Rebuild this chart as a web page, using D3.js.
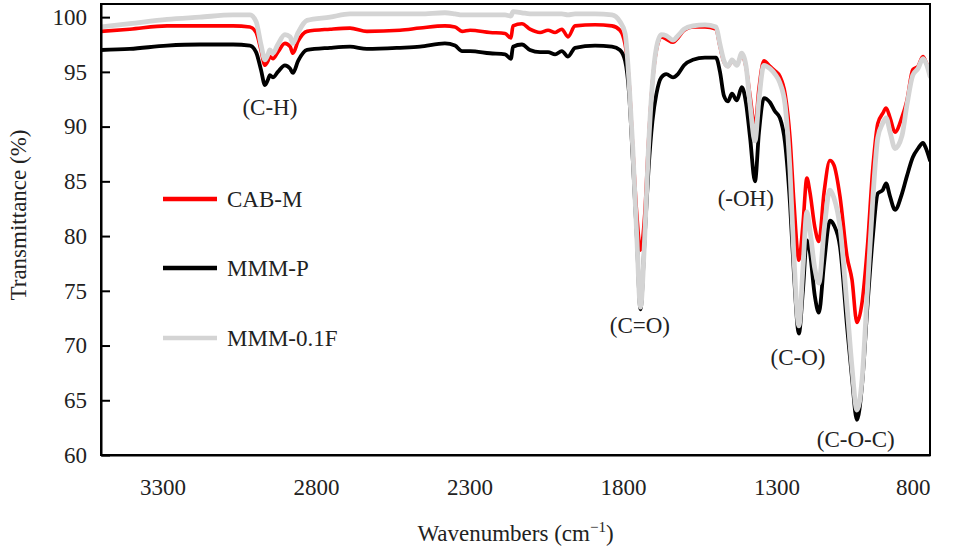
<!DOCTYPE html>
<html>
<head>
<meta charset="utf-8">
<script src="https://cdn.jsdelivr.net/npm/d3@7/dist/d3.min.js"></script>
<style>
  html, body { margin: 0; padding: 0; background: #fff; }
  svg { display: block; }
  svg text { font-family: "Liberation Serif", "Times New Roman", serif !important; fill: #222; }
</style>
</head>
<body>
<svg id="chart" width="959" height="548"></svg>
<script>
// ---- data ----
const wavenumbers = [3500,3406,3285,3178,3070,3015,2995,2979,2966,2956,2950,2940,2924,2901,2884,2875,2858,2829,2754,2689,2634,2526,2461,2380,2347,2324,2298,2233,2184,2165,2158,2129,2103,2070,2044,2021,1999,1979,1956,1891,1836,1810,1793,1780,1768,1755,1743,1729,1717,1704,1691,1675,1659,1637,1621,1601,1572,1533,1497,1484,1471,1458,1445,1429,1413,1399,1386,1370,1357,1341,1321,1305,1289,1272,1256,1243,1227,1214,1201,1191,1175,1162,1145,1126,1113,1093,1070,1054,1038,1021,1004,986,970,954,943,930,914,891,875,856,839,823,813,800];
const cabM = [98.7,98.9,99.2,99.2,99.2,99.1,98.6,97.0,95.6,96.0,96.4,96.2,96.8,97.6,97.3,96.7,97.8,98.7,98.9,99.0,98.7,98.8,99.0,99.2,99.1,98.7,98.8,98.6,98.5,98.1,99.2,99.4,98.9,98.6,98.8,98.6,98.9,98.2,99.2,99.3,99.2,98.8,97.5,94.0,88.0,82.0,78.7,82.0,88.5,94.0,97.0,98.2,98.0,97.7,98.1,98.8,99.1,99.1,98.9,97.3,95.9,95.5,96.0,95.6,96.6,95.4,92.8,90.0,93.5,96.0,95.5,95.1,94.6,93.0,89.0,83.0,77.8,81.0,85.3,84.0,80.8,79.5,84.0,86.9,86.5,83.6,78.1,76.0,72.1,74.0,79.0,86.3,90.3,91.2,91.7,90.8,89.5,90.9,92.4,95.2,95.5,96.4,95.9,94.9];
const mmmP = [97.0,97.1,97.4,97.5,97.5,97.4,96.8,95.2,93.8,94.3,94.7,94.5,95.0,95.6,95.3,94.9,96.0,97.0,97.2,97.3,97.1,97.2,97.3,97.6,97.4,96.9,96.9,96.7,96.6,96.2,97.3,97.5,97.0,96.8,96.8,96.6,96.9,96.4,97.2,97.4,97.3,97.0,96.0,93.0,87.0,80.0,73.3,80.0,86.0,90.5,93.0,94.5,94.8,94.5,94.8,95.6,96.1,96.3,96.3,95.0,92.8,92.3,93.0,92.4,93.6,92.1,89.0,85.0,89.5,92.6,92.2,91.4,90.8,88.5,83.0,76.5,71.1,75.0,79.6,78.5,74.5,73.0,77.5,81.4,81.0,79.0,71.7,67.0,63.2,66.5,73.5,80.0,83.9,84.2,84.8,83.6,82.4,83.9,85.5,87.2,88.0,88.5,88.0,86.9];
const mmm01F = [99.1,99.4,99.8,100.0,100.2,100.2,99.6,97.5,96.1,96.6,97.0,96.7,97.5,98.4,98.2,97.6,98.6,99.7,100.0,100.3,100.3,100.3,100.3,100.4,100.3,100.2,100.2,100.2,100.2,100.1,100.5,100.4,100.3,100.3,100.3,100.3,100.3,100.2,100.3,100.3,100.2,99.6,98.5,94.0,88.0,80.0,73.5,80.0,88.0,94.0,97.2,98.4,98.3,97.9,98.3,98.9,99.2,99.3,99.1,97.5,96.0,95.5,96.1,95.6,96.7,95.5,92.0,88.7,92.5,95.6,95.3,94.8,94.0,92.0,86.0,78.0,71.8,77.0,82.2,80.5,77.0,75.7,80.5,84.2,83.5,80.8,73.5,68.0,64.1,67.0,75.0,83.5,89.0,90.3,90.8,89.5,88.0,89.2,92.0,94.7,95.3,96.2,95.8,94.6];

const seriesNames = ["CAB-M", "MMM-P", "MMM-0.1F"];
const seriesValues = [cabM, mmmP, mmm01F];
const seriesColors = ["#ff0000", "#000000", "#d4d4d4"];
const seriesWidths = [3.6, 3.8, 4.8];

const xTicks = [3300, 2800, 2300, 1800, 1300, 800];
const yTicks = [60, 65, 70, 75, 80, 85, 90, 95, 100];

const peakLabels = ["(C-H)", "(C=O)", "(-OH)", "(C-O)", "(C-O-C)"];
const peakWavenumbers = [2950, 1745, 1400, 1230, 1042];
const peakTransmittance = [91.7, 71.8, 83.4, 68.9, 61.4];

// ---- layout ----
const FONT = '"Liberation Serif", "Times New Roman", serif';
const svg = d3.select("#chart");
const mLeft = 101, mRight = 930, mTop = 4, mBottom = 455;

const x = d3.scaleLinear().domain([3500, 800]).range([mLeft, mRight]);
const y = d3.scaleLinear().domain([60, 101.2]).range([mBottom, mTop]);

svg.append("defs").append("clipPath").attr("id", "plotclip")
  .append("rect").attr("x", mLeft).attr("y", mTop).attr("width", mRight - mLeft).attr("height", mBottom - mTop);

// series lines: CAB-M, MMM-P, MMM-0.1F (gray on top)
const line = d3.line().x(d => x(d[0])).y(d => y(d[1])).curve(d3.curveMonotoneX);
const gLines = svg.append("g").attr("clip-path", "url(#plotclip)");
seriesValues.forEach((vals, i) => {
  const pts = wavenumbers.map((w, j) => [w, vals[j]]);
  gLines.append("path")
    .datum(pts)
    .attr("d", line)
    .attr("fill", "none")
    .attr("stroke", seriesColors[i])
    .attr("stroke-width", seriesWidths[i])
    .attr("stroke-linejoin", "round")
    .attr("stroke-linecap", "round");
});

// frame
svg.append("rect").attr("x", mLeft).attr("y", mTop).attr("width", mRight - mLeft).attr("height", mBottom - mTop)
  .attr("fill", "none").attr("stroke", "#000").attr("stroke-width", 2);

// y axis (ticks inside)
const yAxis = svg.append("g").attr("transform", `translate(${mLeft},0)`)
  .call(d3.axisLeft(y).tickValues(yTicks).tickFormat(d3.format("d")).tickSizeInner(-9).tickSizeOuter(0).tickPadding(14))
  .attr("font-family", FONT).attr("font-size", 23);
yAxis.select(".domain").attr("stroke", "#000").attr("stroke-width", 2);
yAxis.selectAll(".tick line").attr("stroke", "#000").attr("stroke-width", 2);
yAxis.selectAll(".tick text").attr("fill", "#222");

// x axis (no tick marks)
const xAxis = svg.append("g").attr("transform", `translate(0,${mBottom})`)
  .call(d3.axisBottom(x).tickValues(xTicks).tickFormat(d3.format("d")).tickSize(0).tickPadding(24))
  .attr("font-family", FONT).attr("font-size", 23);
xAxis.select(".domain").attr("stroke", "#000").attr("stroke-width", 2);
xAxis.selectAll(".tick text").attr("fill", "#222")
  .attr("text-anchor", d => d === 800 ? "end" : "middle");

// axis titles
svg.append("text")
  .attr("transform", `translate(18,215) rotate(-90)`)
  .attr("text-anchor", "middle").attr("dominant-baseline", "central")
  .attr("font-size", 23).text("Transmittance (%)");

const xt = svg.append("text")
  .attr("x", (mLeft + mRight) / 2).attr("y", 541)
  .attr("text-anchor", "middle").attr("font-size", 23);
xt.append("tspan").text("Wavenumbers (cm");
xt.append("tspan").attr("font-size", 15).attr("dy", -9).text("\u22121");
xt.append("tspan").attr("dy", 9).text(")");

// peak annotations
peakLabels.forEach((lab, i) => {
  svg.append("text")
    .attr("x", x(peakWavenumbers[i])).attr("y", y(peakTransmittance[i]))
    .attr("text-anchor", "middle").attr("dominant-baseline", "central")
    .attr("font-size", 23).text(lab);
});

// legend
const legendY = [199, 268, 338];
seriesNames.forEach((name, i) => {
  svg.append("line")
    .attr("x1", 163).attr("x2", 217).attr("y1", legendY[i]).attr("y2", legendY[i])
    .attr("stroke", seriesColors[i]).attr("stroke-width", 4.5);
  svg.append("text")
    .attr("x", 227).attr("y", legendY[i])
    .attr("dominant-baseline", "central")
    .attr("font-size", 23).text(name);
});
</script>
</body>
</html>
